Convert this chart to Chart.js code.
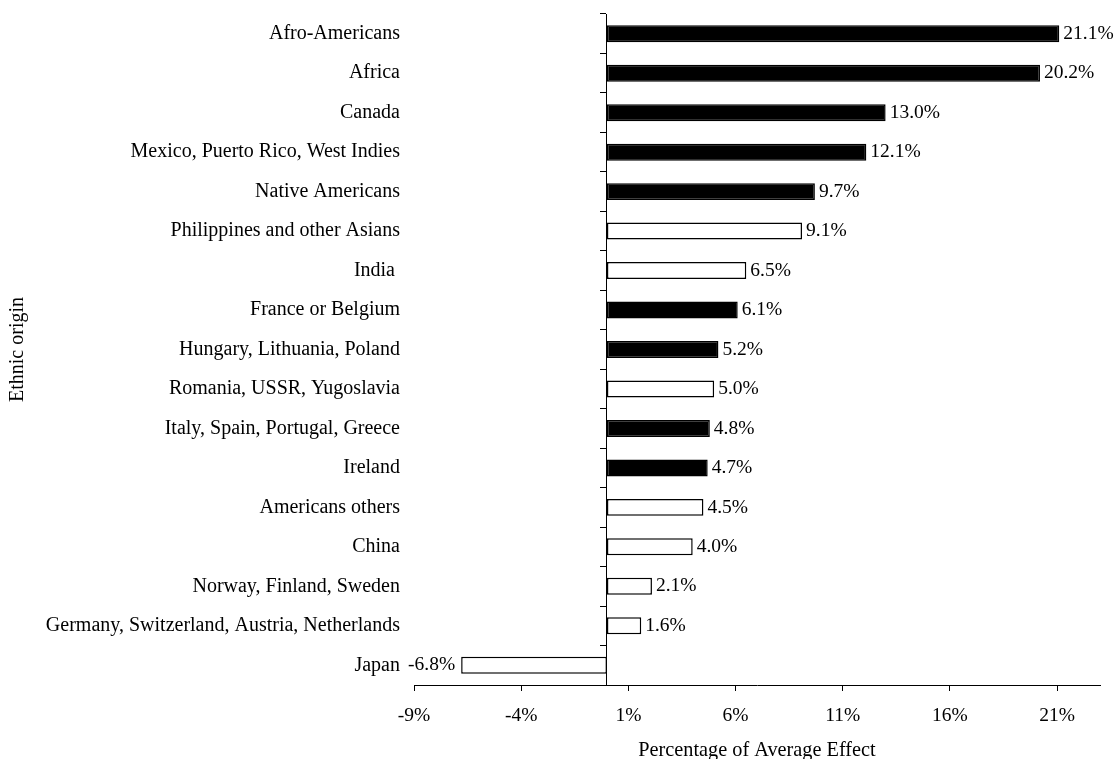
<!DOCTYPE html>
<html>
<head>
<meta charset="utf-8">
<script src="https://cdn.jsdelivr.net/npm/chart.js@4/dist/chart.umd.min.js"></script>
<style>
  html, body { margin: 0; padding: 0; background: #fff; }
  #wrap { width: 1115px; height: 759px; position: relative; }
</style>
</head>
<body>
<div id="wrap"><canvas id="c"></canvas></div>
<script>
const categories = [
  "Afro-Americans",
  "Africa",
  "Canada",
  "Mexico, Puerto Rico, West Indies",
  "Native Americans",
  "Philippines and other Asians",
  "India ",
  "France or Belgium",
  "Hungary, Lithuania, Poland",
  "Romania, USSR, Yugoslavia",
  "Italy, Spain, Portugal, Greece",
  "Ireland",
  "Americans others",
  "China",
  "Norway, Finland, Sweden",
  "Germany, Switzerland, Austria, Netherlands",
  "Japan"
];
const effectValues = [21.1, 20.2, 13.0, 12.1, 9.7, 9.1, 6.5, 6.1, 5.2, 5.0, 4.8, 4.7, 4.5, 4.0, 2.1, 1.6, -6.8];
const significant = [true, true, true, true, true, false, false, true, true, false, true, true, false, false, false, false, false];
const xTickValues = [-9, -4, 1, 6, 11, 16, 21];
const xMin = -9;
const xMax = 23;

const FONT = "'Liberation Serif', 'Times New Roman', serif";
Chart.defaults.font.family = FONT;
Chart.defaults.font.size = 19.5;
Chart.defaults.color = '#000';

const valueLabels = {
  id: 'valueLabels',
  afterDatasetsDraw(chart) {
    const ctx = chart.ctx;
    const meta = chart.getDatasetMeta(0);
    ctx.save();
    ctx.font = '19.5px ' + FONT;
    ctx.fillStyle = '#000';
    ctx.textBaseline = 'middle';
    meta.data.forEach((el, i) => {
      const v = effectValues[i];
      const txt = v.toFixed(1) + '%';
      if (v >= 0) {
        ctx.textAlign = 'left';
        ctx.fillText(txt, el.x + 4, el.y);
      } else {
        ctx.textAlign = 'right';
        ctx.fillText(txt, el.x - 6, el.y);
      }
    });
    ctx.restore();
  }
};

function noVPad(scale) { scale.paddingTop = 0; scale.paddingBottom = 0; }

new Chart(document.getElementById('c'), {
  type: 'bar',
  data: {
    labels: categories,
    datasets: [{
      data: effectValues,
      backgroundColor: significant.map(s => s ? '#000' : '#fff'),
      borderColor: '#000',
      borderWidth: 1.5,
      borderSkipped: false,
      barPercentage: 0.43,
      categoryPercentage: 1.0
    }]
  },
  options: {
    indexAxis: 'y',
    responsive: true,
    maintainAspectRatio: false,
    animation: false,
    layout: { padding: { top: 14, right: 15, bottom: 0, left: 0 } },
    plugins: { legend: { display: false }, tooltip: { enabled: false } },
    scales: {
      x: {
        type: 'linear',
        position: 'bottom',
        min: xMin,
        max: xMax,
        afterBuildTicks(scale) { scale.ticks = xTickValues.map(v => ({ value: v })); },
        afterFit(scale) { scale.height = 74; },
        ticks: { callback: v => v + '%', padding: 13, autoSkip: false, maxRotation: 0 },
        grid: { drawOnChartArea: false, drawTicks: true, tickLength: 6, color: '#000', lineWidth: 1 },
        border: { display: true, color: '#000', width: 1 },
        title: { display: true, text: 'Percentage of Average Effect', font: { size: 20.3, lineHeight: 0.8 }, padding: { top: 0, bottom: 0 } }
      },
      y: {
        type: 'category',
        position: 'left',
        offset: true,
        afterFit(scale) { scale.width = 414; noVPad(scale); },
        ticks: { padding: 14, autoSkip: false, font: { size: 20 } },
        grid: { display: false, drawTicks: false },
        border: { display: false },
        title: { display: true, text: 'Ethnic origin', font: { size: 20, lineHeight: 1.2 }, padding: { top: 6, bottom: 0 } }
      },
      y2: {
        type: 'category',
        axis: 'y',
        position: { x: 0 },
        offset: true,
        afterFit(scale) { noVPad(scale); },
        ticks: { display: false },
        grid: { offset: true, drawOnChartArea: false, drawTicks: true, tickLength: 6, color: '#000', lineWidth: 1 },
        border: { display: true, color: '#000', width: 1 }
      }
    }
  },
  plugins: [valueLabels]
});
</script>
</body>
</html>
